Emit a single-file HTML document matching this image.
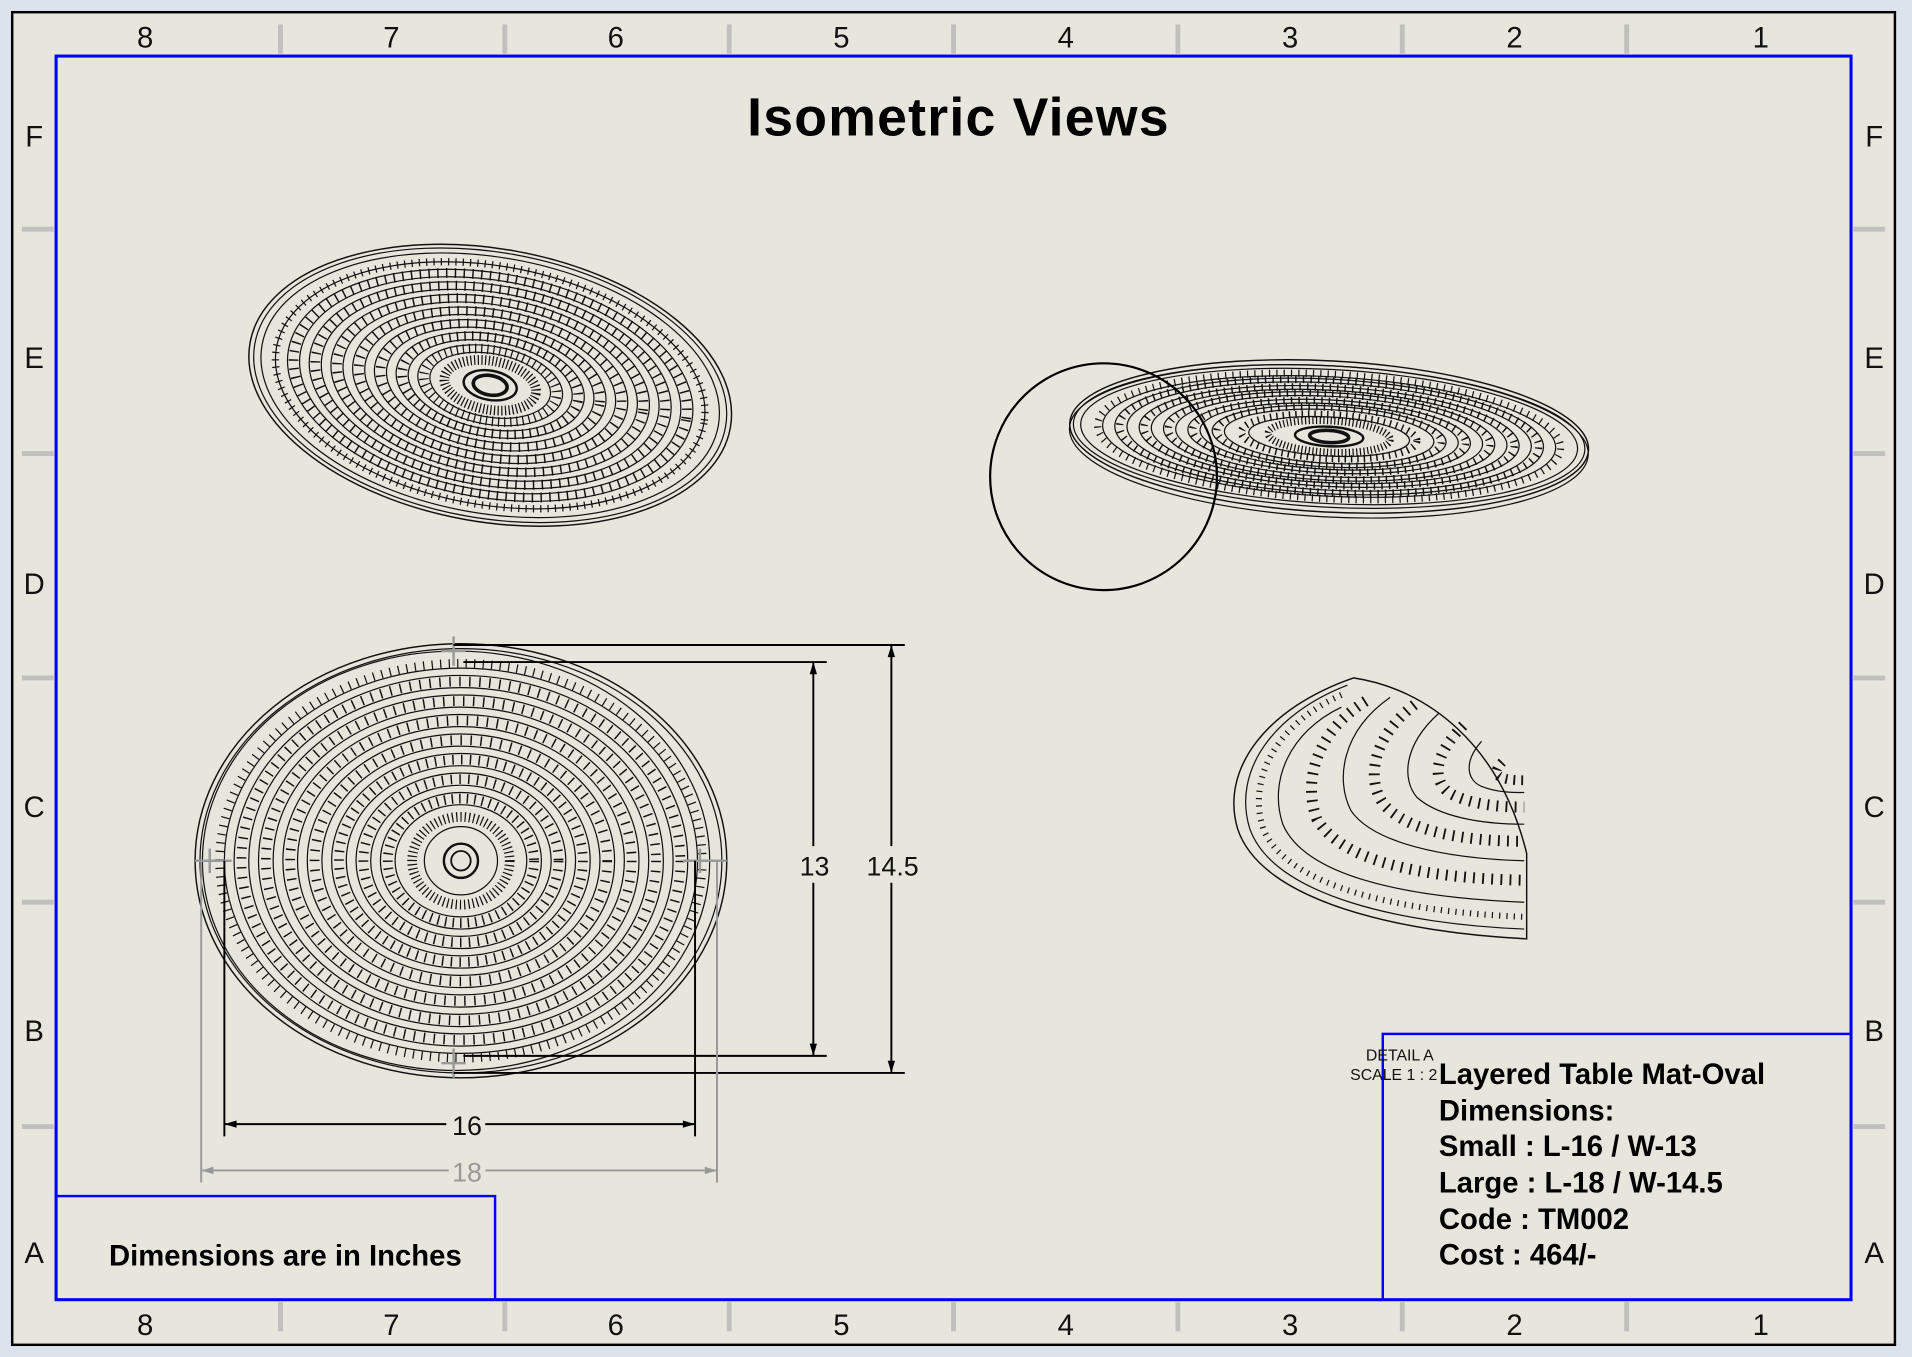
<!DOCTYPE html>
<html><head><meta charset="utf-8"><style>
html,body{margin:0;padding:0;background:#dde3ec;}
svg{display:block}
text{font-family:"Liberation Sans",sans-serif;}
</style></head><body>
<svg width="1912" height="1357" viewBox="0 0 1568 1113" preserveAspectRatio="none" xmlns="http://www.w3.org/2000/svg">
<rect x="0" y="0" width="1568" height="1113" fill="#dde3ec"/>
<rect x="10" y="10" width="1544" height="1093" fill="#e7e6dc" stroke="#000" stroke-width="2"/>
<g stroke="#c0c0c0" stroke-width="4">
<line x1="230" y1="20" x2="230" y2="44"/><line x1="414" y1="20" x2="414" y2="44"/><line x1="598" y1="20" x2="598" y2="44"/><line x1="782" y1="20" x2="782" y2="44"/><line x1="966" y1="20" x2="966" y2="44"/><line x1="1150" y1="20" x2="1150" y2="44"/><line x1="1334" y1="20" x2="1334" y2="44"/>
<line x1="230" y1="1068" x2="230" y2="1092"/><line x1="414" y1="1068" x2="414" y2="1092"/><line x1="598" y1="1068" x2="598" y2="1092"/><line x1="782" y1="1068" x2="782" y2="1092"/><line x1="966" y1="1068" x2="966" y2="1092"/><line x1="1150" y1="1068" x2="1150" y2="1092"/><line x1="1334" y1="1068" x2="1334" y2="1092"/>
<line x1="18" y1="188" x2="44" y2="188"/><line x1="18" y1="372" x2="44" y2="372"/><line x1="18" y1="556" x2="44" y2="556"/><line x1="18" y1="740" x2="44" y2="740"/><line x1="18" y1="924" x2="44" y2="924"/>
<line x1="1520" y1="188" x2="1546" y2="188"/><line x1="1520" y1="372" x2="1546" y2="372"/><line x1="1520" y1="556" x2="1546" y2="556"/><line x1="1520" y1="740" x2="1546" y2="740"/><line x1="1520" y1="924" x2="1546" y2="924"/>
</g>
<g font-size="24" fill="#111" text-anchor="middle">
<text x="119" y="39">8</text><text x="321" y="39">7</text><text x="505" y="39">6</text><text x="690" y="39">5</text><text x="874" y="39">4</text><text x="1058" y="39">3</text><text x="1242" y="39">2</text><text x="1444" y="39">1</text>
<text x="119" y="1095">8</text><text x="321" y="1095">7</text><text x="505" y="1095">6</text><text x="690" y="1095">5</text><text x="874" y="1095">4</text><text x="1058" y="1095">3</text><text x="1242" y="1095">2</text><text x="1444" y="1095">1</text>
<text x="28" y="120">F</text><text x="28" y="302">E</text><text x="28" y="487">D</text><text x="28" y="670">C</text><text x="28" y="854">B</text><text x="28" y="1036">A</text>
<text x="1537" y="120">F</text><text x="1537" y="302">E</text><text x="1537" y="487">D</text><text x="1537" y="670">C</text><text x="1537" y="854">B</text><text x="1537" y="1036">A</text>
</g>
<rect x="46" y="46" width="1472" height="1020" fill="none" stroke="#0000ff" stroke-width="2.5"/>
<text x="786" y="111" font-size="44" font-weight="bold" text-anchor="middle" fill="#000" letter-spacing="1">Isometric Views</text>

<!-- top-left iso -->
<g transform="translate(402,316) rotate(10)" fill="none" stroke="#111">
<ellipse rx="200" ry="112" stroke-width="1.2"/><ellipse rx="196" ry="109" stroke-width="1"/><ellipse rx="190" ry="105" stroke-width="1"/>
<ellipse rx="178" ry="98" stroke-width="6" stroke-dasharray="1 5"/><ellipse rx="178" ry="98"/>
<ellipse rx="163" ry="89" stroke-width="8" stroke-dasharray="1.2 6"/><ellipse rx="158" ry="86"/><ellipse rx="168" ry="92"/>
<ellipse rx="145" ry="79" stroke-width="8" stroke-dasharray="1.2 6"/><ellipse rx="140" ry="76"/><ellipse rx="150" ry="82"/>
<ellipse rx="127" ry="69" stroke-width="8" stroke-dasharray="1.2 6"/><ellipse rx="122" ry="66"/><ellipse rx="132" ry="72"/>
<ellipse rx="109" ry="59" stroke-width="8" stroke-dasharray="1.2 6"/><ellipse rx="104" ry="56"/><ellipse rx="114" ry="62"/>
<ellipse rx="91" ry="49" stroke-width="8" stroke-dasharray="1.2 6"/><ellipse rx="86" ry="46"/><ellipse rx="96" ry="52"/>
<ellipse rx="73" ry="39" stroke-width="8" stroke-dasharray="1.2 5"/><ellipse rx="68" ry="36"/><ellipse rx="78" ry="42"/>
<ellipse rx="55" ry="29" stroke-width="8" stroke-dasharray="1 4"/><ellipse rx="50" ry="26"/><ellipse rx="60" ry="32"/>
<ellipse rx="38" ry="20" stroke-width="8" stroke-dasharray="1 2"/><ellipse rx="22" ry="12" stroke-width="2"/><ellipse rx="14" ry="8" stroke-width="3"/>
</g>

<!-- top-right iso -->
<g transform="translate(1090,358) rotate(3)" fill="none" stroke="#111">
<ellipse rx="213" ry="62" stroke-width="1.2"/><ellipse rx="210" ry="58"/><ellipse rx="204" ry="55"/>
<ellipse rx="190" ry="51" stroke-width="6" stroke-dasharray="1 5"/><ellipse rx="186" ry="49"/>
<ellipse rx="172" ry="46" stroke-width="6" stroke-dasharray="1.2 5"/><ellipse rx="166" ry="44"/><ellipse rx="176" ry="47"/>
<ellipse rx="152" ry="40" stroke-width="6" stroke-dasharray="1.2 5"/><ellipse rx="146" ry="38"/><ellipse rx="156" ry="41"/>
<ellipse rx="132" ry="35" stroke-width="6" stroke-dasharray="1.2 5"/><ellipse rx="126" ry="33"/><ellipse rx="136" ry="36"/>
<ellipse rx="112" ry="29" stroke-width="6" stroke-dasharray="1.2 5"/><ellipse rx="106" ry="27"/><ellipse rx="116" ry="30"/>
<ellipse rx="92" ry="24" stroke-width="6" stroke-dasharray="1.2 5"/><ellipse rx="86" ry="22"/><ellipse rx="96" ry="25"/>
<ellipse rx="72" ry="18" stroke-width="6" stroke-dasharray="1.2 4"/><ellipse rx="66" ry="16"/>
<ellipse rx="50" ry="13" stroke-width="6" stroke-dasharray="1 2"/><ellipse rx="28" ry="8" stroke-width="2"/><ellipse rx="16" ry="5" stroke-width="3"/>
<ellipse cy="4" rx="213" ry="62" stroke-width="1"/>
</g>
<circle cx="905" cy="391" r="93" fill="none" stroke="#000" stroke-width="1.8"/>

<!-- front view -->
<g transform="translate(378,706)" fill="none" stroke="#111">
<ellipse rx="218" ry="178" stroke-width="1.2"/><ellipse rx="214" ry="174"/><ellipse cx="-4" rx="208" ry="172"/>
<ellipse rx="198" ry="162" stroke-width="7" stroke-dasharray="1 6"/><ellipse rx="194" ry="158"/>
<ellipse rx="180" ry="147" stroke-width="8" stroke-dasharray="1.2 7"/><ellipse rx="174" ry="142"/><ellipse rx="186" ry="152"/>
<ellipse rx="160" ry="131" stroke-width="8" stroke-dasharray="1.2 7"/><ellipse rx="154" ry="126"/><ellipse rx="166" ry="136"/>
<ellipse rx="140" ry="115" stroke-width="8" stroke-dasharray="1.2 7"/><ellipse rx="134" ry="110"/><ellipse rx="146" ry="120"/>
<ellipse rx="120" ry="99" stroke-width="8" stroke-dasharray="1.2 7"/><ellipse rx="114" ry="94"/><ellipse rx="126" ry="104"/>
<ellipse rx="100" ry="83" stroke-width="8" stroke-dasharray="1.2 6"/><ellipse rx="94" ry="78"/><ellipse rx="106" ry="88"/>
<ellipse rx="80" ry="67" stroke-width="8" stroke-dasharray="1.2 6"/><ellipse rx="74" ry="62"/><ellipse rx="86" ry="72"/>
<ellipse rx="60" ry="51" stroke-width="8" stroke-dasharray="1.2 5"/><ellipse rx="54" ry="46"/><ellipse rx="66" ry="56"/>
<ellipse rx="40" ry="36" stroke-width="8" stroke-dasharray="1 2.5"/><ellipse rx="30" ry="28"/>
<ellipse rx="14" ry="14" stroke-width="2"/><ellipse rx="8" ry="8" stroke-width="1.5"/>
</g>
<g stroke="#999" stroke-width="2" fill="none">
<path d="M372 522v24M362 534h20M372 860v24M362 872h20M160 706h30M172 696v20M560 706h36M574 696v20"/>
</g>

<!-- dimensions -->
<g stroke="#000" stroke-width="1.6" fill="none">
<line x1="380" y1="543" x2="678" y2="543"/><line x1="380" y1="866" x2="678" y2="866"/>
<line x1="667" y1="543" x2="667" y2="694"/><line x1="667" y1="724" x2="667" y2="866"/>
<line x1="372" y1="529" x2="742" y2="529"/><line x1="372" y1="880" x2="742" y2="880"/>
<line x1="731" y1="529" x2="731" y2="694"/><line x1="731" y1="724" x2="731" y2="880"/>
<line x1="184" y1="706" x2="184" y2="932"/><line x1="570" y1="706" x2="570" y2="932"/>
<line x1="184" y1="922" x2="366" y2="922"/><line x1="398" y1="922" x2="570" y2="922"/>
</g>
<g fill="#000">
<path d="M667 543l-3 10h6zM667 866l-3 -10h6zM731 529l-3 10h6zM731 880l-3 -10h6zM184 922l10 -3v6zM570 922l-10 -3v6z"/>
</g>
<g stroke="#999" stroke-width="1.6" fill="none">
<line x1="165" y1="706" x2="165" y2="970"/><line x1="588" y1="706" x2="588" y2="970"/>
<line x1="165" y1="960" x2="368" y2="960"/><line x1="398" y1="960" x2="588" y2="960"/>
</g>
<path d="M165 960l10 -3v6zM588 960l-10 -3v6z" fill="#999"/>
<g font-size="22" text-anchor="middle" fill="#111">
<text x="668" y="718">13</text><text x="732" y="718">14.5</text><text x="383" y="931">16</text>
<text x="383" y="969" fill="#999">18</text>
</g>

<!-- detail view -->
<g fill="none" stroke="#111">
<path d="M1110 556 C1040 580 1000 630 1015 680 C1035 740 1150 765 1252 770 L1252 700 C1230 610 1170 565 1110 556Z" stroke-width="1.2"/>
<path d="M1105 562 C1045 585 1010 632 1025 680 C1045 735 1150 758 1250 762" />
<path d="M1100 570 C1050 592 1022 636 1036 680 C1056 728 1150 748 1250 752" stroke-width="5" stroke-dasharray="1 5"/>
<path d="M1100 580 C1058 600 1040 640 1052 676 C1070 718 1150 736 1250 740"/>
<path d="M1120 575 C1080 600 1068 640 1080 672 C1100 705 1160 720 1250 722" stroke-width="9" stroke-dasharray="1.5 6"/>
<path d="M1140 572 C1100 600 1095 640 1108 665 C1125 690 1180 704 1250 706"/>
<path d="M1160 578 C1125 605 1120 640 1135 660 C1155 682 1200 690 1250 690" stroke-width="9" stroke-dasharray="1.5 6"/>
<path d="M1180 585 C1150 612 1150 640 1162 654 C1180 670 1215 676 1250 676"/>
<path d="M1200 595 C1175 620 1175 640 1188 650 C1205 660 1230 662 1250 662" stroke-width="9" stroke-dasharray="1.5 6"/>
<path d="M1215 608 C1200 625 1203 640 1215 645 C1228 650 1240 650 1250 650"/>
<path d="M1232 625 C1222 635 1228 640 1250 640" stroke-width="8" stroke-dasharray="1.5 5"/>
</g>

<!-- title block -->
<rect x="46" y="981" width="360" height="85" fill="none" stroke="#0000ff" stroke-width="2"/>
<text x="234" y="1038" font-size="24" font-weight="bold" text-anchor="middle" fill="#000">Dimensions are in Inches</text>
<rect x="1134" y="848" width="384" height="218" fill="none" stroke="#0000ff" stroke-width="2"/>
<text x="1148" y="870" font-size="13" text-anchor="middle" fill="#111">DETAIL A</text>
<text x="1143" y="886" font-size="13" text-anchor="middle" fill="#111">SCALE 1 : 2</text>
<g font-size="24" font-weight="bold" fill="#000">
<text x="1180" y="889">Layered Table Mat-Oval</text>
<text x="1180" y="919">Dimensions:</text>
<text x="1180" y="948">Small : L-16 / W-13</text>
<text x="1180" y="978">Large : L-18 / W-14.5</text>
<text x="1180" y="1008">Code : TM002</text>
<text x="1180" y="1037">Cost : 464/-</text>
</g>
</svg>
</body></html>
